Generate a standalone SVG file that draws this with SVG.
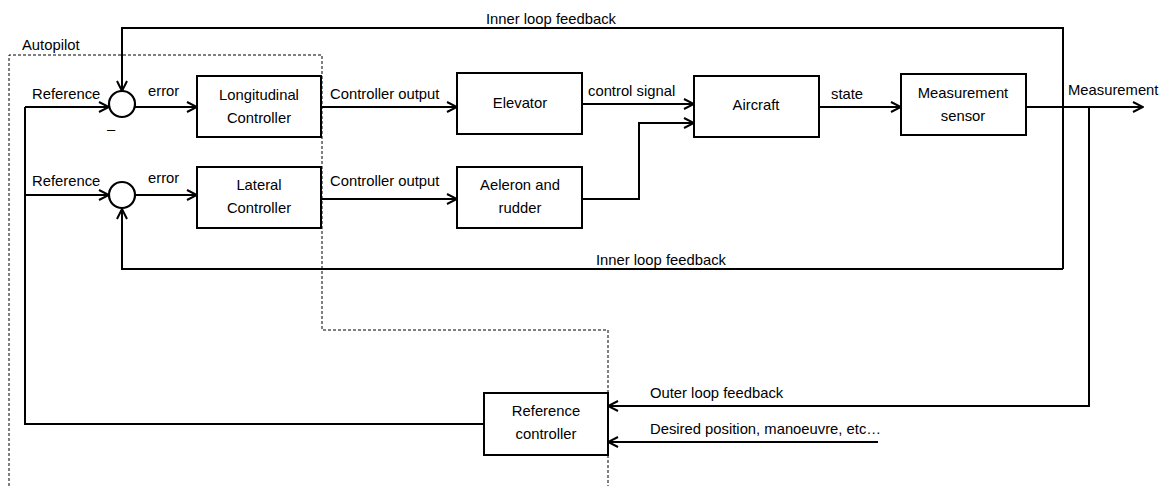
<svg xmlns="http://www.w3.org/2000/svg" width="1168" height="486" viewBox="0 0 1168 486">
  <style>
    text { font-family: "Liberation Sans", Arial, sans-serif; font-size: 14.8px; fill: #000; }
    .c { text-anchor: middle; }
    .box { fill: #fff; stroke: #000; stroke-width: 2; }
    .sum { fill: #fff; stroke: #000; stroke-width: 2.2; }
    .wire { fill: none; stroke: #000; stroke-width: 2; }
    .arr { marker-end: url(#head); }
    .frame { fill: none; stroke: #000; stroke-width: 1; stroke-dasharray: 3 2; }
  </style>
  <defs>
    <marker id="head" viewBox="0 0 12 12" refX="11" refY="6" markerWidth="12" markerHeight="12" markerUnits="userSpaceOnUse" orient="auto">
      <path d="M1,1 L11,6 L1,11" fill="none" stroke="#000" stroke-width="2"/>
    </marker>
  </defs>
  <rect width="1168" height="486" fill="#fff"/>

  <!-- autopilot boundary -->
  <g id="autopilot">
    <path class="frame" d="M9,486 L9,55 L322,55 L322,330 L608,330 L608,486"/>
    <text x="22" y="50">Autopilot</text>
  </g>

  <!-- connectors -->
  <g id="connectors">
    <path class="wire arr" d="M1063,269 L1063,28 L122,28 L122,91"/>
    <path class="wire arr" d="M1063,269 L122,269 L122,209"/>
    <path class="wire arr" d="M25,107 L109,107"/>
    <path class="wire arr" d="M25,195 L109,195"/>
    <path class="wire" d="M25,107 L25,424 L484,424"/>
    <path class="wire arr" d="M135,107 L197,107"/>
    <path class="wire arr" d="M135,195 L197,195"/>
    <path class="wire arr" d="M321,107 L457,107"/>
    <path class="wire arr" d="M321,199 L457,199"/>
    <path class="wire arr" d="M582,104 L694,104"/>
    <path class="wire arr" d="M582,199 L639,199 L639,123 L694,123"/>
    <path class="wire arr" d="M819,107 L901,107"/>
    <path class="wire arr" d="M1026,107 L1143,107"/>
    <path class="wire arr" d="M1089,107 L1089,406 L608,406"/>
    <path class="wire arr" d="M878,442 L608,442"/>

    <text class="c" x="551" y="24">Inner loop feedback</text>
    <text class="c" x="661" y="265">Inner loop feedback</text>
    <text x="32" y="99">Reference</text>
    <text x="32" y="186">Reference</text>
    <text x="148" y="96">error</text>
    <text x="148" y="183">error</text>
    <text x="107" y="134">–</text>
    <text x="330" y="99">Controller output</text>
    <text x="330" y="186">Controller output</text>
    <text x="588" y="96">control signal</text>
    <text x="831" y="99">state</text>
    <text x="1068" y="95">Measurement</text>
    <text x="650" y="398">Outer loop feedback</text>
    <text x="650" y="434">Desired position, manoeuvre, etc…</text>
  </g>

  <g id="sum1"><circle class="sum" cx="122" cy="104" r="13"/></g>
  <g id="sum2"><circle class="sum" cx="122" cy="195" r="13"/></g>

  <g id="longitudinal">
    <rect class="box" x="197" y="76" width="124" height="61"/>
    <text class="c" x="259" y="100">Longitudinal</text>
    <text class="c" x="259" y="123">Controller</text>
  </g>
  <g id="lateral">
    <rect class="box" x="197" y="167" width="124" height="61"/>
    <text class="c" x="259" y="190">Lateral</text>
    <text class="c" x="259" y="213">Controller</text>
  </g>
  <g id="elevator">
    <rect class="box" x="457" y="73" width="125" height="61"/>
    <text class="c" x="520" y="108">Elevator</text>
  </g>
  <g id="aileron">
    <rect class="box" x="457" y="167" width="125" height="61"/>
    <text class="c" x="520" y="190">Aeleron and</text>
    <text class="c" x="520" y="213">rudder</text>
  </g>
  <g id="aircraft">
    <rect class="box" x="694" y="76" width="125" height="61"/>
    <text class="c" x="756" y="110">Aircraft</text>
  </g>
  <g id="sensor">
    <rect class="box" x="901" y="74" width="125" height="61"/>
    <text class="c" x="963" y="98">Measurement</text>
    <text class="c" x="963" y="121">sensor</text>
  </g>
  <g id="refctrl">
    <rect class="box" x="484" y="393" width="124" height="62"/>
    <text class="c" x="546" y="416">Reference</text>
    <text class="c" x="546" y="439">controller</text>
  </g>
</svg>
